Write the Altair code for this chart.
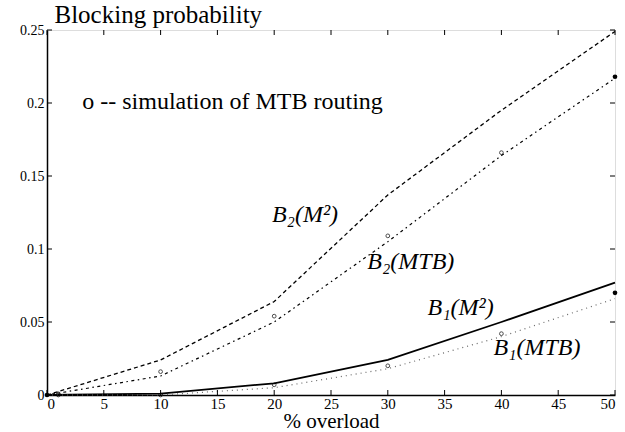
import altair as alt
import pandas as pd

# ---- data ----
overload = [0, 10, 20, 30, 40, 50]
b2_m2 = [0.0, 0.024, 0.064, 0.137, 0.195, 0.249]
b2_mtb = [0.0, 0.013, 0.050, 0.105, 0.164, 0.217]
b1_m2 = [0.0, 0.001, 0.008, 0.024, 0.050, 0.077]
b1_mtb = [0.0, 0.0, 0.005, 0.018, 0.040, 0.066]

sim_x = [1, 10, 20, 30, 40]
sim_b2 = [0.0008, 0.016, 0.054, 0.109, 0.166]
sim_b1 = [0.0, 0.0, 0.007, 0.020, 0.042]
end_x = [50, 50, 0]
end_y = [0.218, 0.070, 0.0]

x_ticks = [0, 5, 10, 15, 20, 25, 30, 35, 40, 45, 50]
y_ticks = [0, 0.05, 0.1, 0.15, 0.2, 0.25]

label_text = ["B₂(M²)", "B₂(MTB)", "B₁(M²)", "B₁(MTB)"]
label_x = [19.8, 28.2, 33.5, 39.3]
label_y = [0.1233, 0.0911, 0.0596, 0.0322]

note_text = ["o -- simulation of MTB routing"]
note_x = [3.1]
note_y = [0.2007]

series_names = ["B2(M2)", "B2(MTB)", "B1(M2)", "B1(MTB)"]
series_vals = [b2_m2, b2_mtb, b1_m2, b1_mtb]

rows = []
for n, vals in zip(series_names, series_vals):
    for x, v in zip(overload, vals):
        rows.append({"series": n, "x": x, "y": v})
lines_df = pd.DataFrame(rows)

sim_df = pd.DataFrame({"x": sim_x * 2, "y": sim_b2 + sim_b1})
end_df = pd.DataFrame({"x": end_x, "y": end_y})
lab_df = pd.DataFrame({"t": label_text, "x": label_x, "y": label_y})
note_df = pd.DataFrame({"t": note_text, "x": note_x, "y": note_y})
xt_df = pd.DataFrame({"x": x_ticks})
yt_df = pd.DataFrame({"y": y_ticks})

FONT = "Liberation Serif"
W, H = 568, 365

xs = alt.Scale(domain=[0, 50], nice=False, zero=False)
ys = alt.Scale(domain=[0, 0.25], nice=False, zero=False)

xenc = alt.X("x:Q", scale=xs, axis=alt.Axis(
    values=x_ticks, title="% overload", titleFont=FONT, titleFontSize=21,
    titleFontWeight="normal", titleColor="black", titlePadding=-1,
    labelFont=FONT, labelFontSize=15, labelColor="black", labelPadding=1,
    ticks=False, grid=False, domainColor="black", domainWidth=1.5))
yenc = alt.Y("y:Q", scale=ys, axis=alt.Axis(
    values=y_ticks, format="~g", title="Blocking probability", titleFont=FONT,
    titleFontSize=25, titleFontWeight="normal", titleColor="black",
    titleAngle=0, titleAlign="left", titleBaseline="alphabetic", titleX=7, titleY=-8,
    labelFont=FONT, labelFontSize=14, labelColor="black", labelPadding=3,
    ticks=False, grid=False, domainColor="black", domainWidth=1.5))

def line(name, dash, width, color="black"):
    return alt.Chart(lines_df[lines_df.series == name]).mark_line(
        color=color, strokeWidth=width, strokeDash=dash).encode(x=xenc, y=yenc)

base = alt.Chart(lines_df).mark_line(opacity=0).encode(x=xenc, y=yenc)

l1 = line("B2(M2)", [4, 3], 1.3)
l2 = line("B2(MTB)", [1.5, 3.5, 3, 3.5], 1.2)
l3 = alt.Chart(lines_df[lines_df.series == "B1(M2)"]).mark_line(
    color="black", strokeWidth=1.8).encode(x=xenc, y=yenc)
l4 = line("B1(MTB)", [1, 4], 1.2, "#666666")

sim = alt.Chart(sim_df).mark_point(shape="circle", size=14, color="black",
                                    strokeWidth=1, filled=False).encode(x=xenc, y=yenc)
ends = alt.Chart(end_df).mark_point(shape="circle", size=22, color="black",
                                     filled=True, opacity=1).encode(x=xenc, y=yenc)

labels = alt.Chart(lab_df).mark_text(font=FONT, fontSize=24, fontStyle="italic",
                                     align="left", baseline="middle", color="black").encode(
    x=xenc, y=yenc, text="t:N")

note = alt.Chart(note_df).mark_text(font=FONT, fontSize=24, align="left",
                                    baseline="middle", color="black").encode(
    x=xenc, y=yenc, text="t:N")

# inward ticks on all four sides
tb = alt.Chart(xt_df).mark_rule(color="black", strokeWidth=1).encode(
    x="x:Q", y=alt.value(H), y2=alt.value(H - 5))
tt = alt.Chart(xt_df).mark_rule(color="black", strokeWidth=1).encode(
    x="x:Q", y=alt.value(0), y2=alt.value(5))
tl = alt.Chart(yt_df).mark_rule(color="black", strokeWidth=1).encode(
    y="y:Q", x=alt.value(0), x2=alt.value(5))
tr = alt.Chart(yt_df).mark_rule(color="black", strokeWidth=1).encode(
    y="y:Q", x=alt.value(W), x2=alt.value(W - 5))

chart = alt.layer(base, l1, l2, l3, l4, sim, ends, labels, note, tb, tt, tl, tr).properties(
    width=W, height=H,
    autosize=alt.AutoSizeParams(type="none"),
    padding={"left": 47, "top": 30, "right": 10, "bottom": 37},
).configure_view(stroke="black", strokeWidth=1.5).configure(
    background="white", font=FONT
).configure_axis(labelFont=FONT, titleFont=FONT).configure_text(font=FONT)

chart.save("out.html", embed_options={"renderer": "svg", "actions": False})
